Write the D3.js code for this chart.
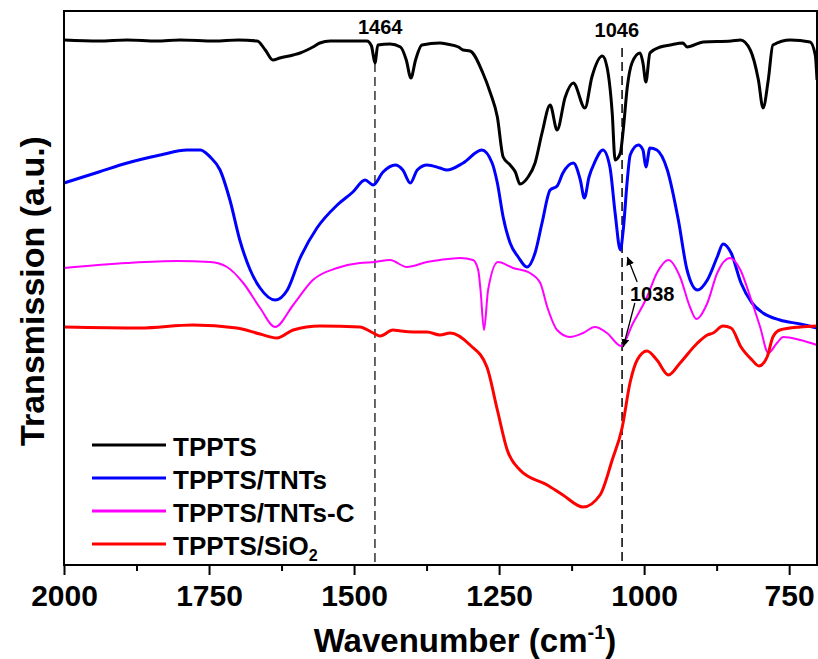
<!DOCTYPE html>
<html>
<head>
<meta charset="utf-8">
<script src="https://cdn.jsdelivr.net/npm/d3@7"></script>
<style>
  body { margin: 0; background: #fff; }
  svg { display: block; font-family: "Liberation Sans", Arial, sans-serif; font-weight: bold; }
</style>
</head>
<body>
<div id="chart"></div>
<script>
// FTIR spectra, [wavenumber (cm-1), transmission (a.u.)]
const tppts = [
  [2000, 525], [1940, 524], [1891, 525], [1840, 524], [1800, 525], [1740, 524], [1700, 525], [1667, 524],
  [1653, 515], [1640, 505], [1628, 507], [1605, 510], [1593, 512], [1581, 515], [1571, 518],
  [1559, 522], [1541, 524], [1500, 524],
  [1478, 524], [1470, 519], [1464, 502], [1459, 520], [1438, 521], [1420, 518], [1410, 505],
  [1402, 487], [1394, 505], [1383, 520], [1352, 522], [1340, 521], [1320, 518], [1312, 515],
  [1300, 514], [1278, 492], [1265, 472], [1253, 448], [1243, 408], [1231, 400], [1222, 393],
  [1214, 381], [1200, 388], [1188, 402], [1176, 432], [1162, 460], [1150, 435], [1136, 468],
  [1122, 482], [1102, 457], [1090, 488], [1072, 509], [1064, 498], [1055, 452], [1050, 405],
  [1041, 412], [1036, 435], [1029, 478], [1021, 502], [1007, 512], [1002, 502], [997, 483],
  [990, 512], [972, 518], [955, 520], [933, 522], [926, 518], [898, 523], [850, 524], [834, 525],
  [817, 515], [803, 485], [795, 457], [786, 485], [778, 520], [748, 525], [714, 523], [705, 510],
  [702, 485]
];
const tppts_tnts = [
  [2000, 382], [1940, 393], [1891, 402], [1834, 410], [1788, 415], [1765, 415], [1748, 408],
  [1731, 395], [1714, 365], [1697, 325], [1679, 295], [1662, 277], [1636, 265], [1615, 275],
  [1593, 307], [1564, 337], [1529, 360], [1502, 373], [1481, 385], [1467, 380], [1450, 393],
  [1429, 400], [1416, 395], [1403, 382], [1391, 395], [1374, 400], [1352, 397], [1340, 395],
  [1312, 402], [1280, 415], [1262, 402], [1253, 382], [1243, 348], [1231, 322], [1217, 308],
  [1202, 298], [1188, 312], [1176, 342], [1162, 375], [1150, 379], [1140, 392], [1122, 402],
  [1110, 385], [1103, 367], [1095, 388], [1085, 403], [1071, 415], [1059, 398], [1050, 352],
  [1041, 315], [1036, 335], [1029, 385], [1024, 410], [1010, 420], [1002, 415], [997, 398],
  [990, 417], [978, 415], [960, 395], [941, 345], [926, 295], [908, 275], [891, 285],
  [874, 308], [864, 321], [850, 312], [833, 282], [814, 262], [795, 252], [766, 245],
  [731, 241], [702, 237]
];
const tppts_tnts_c = [
  [2000, 297], [1891, 302], [1805, 304], [1748, 303], [1719, 298], [1691, 282], [1662, 257],
  [1636, 238], [1605, 260], [1571, 285], [1529, 297], [1490, 302], [1464, 303], [1438, 305],
  [1409, 298], [1374, 303], [1352, 305], [1317, 307], [1295, 305], [1286, 295], [1282, 275],
  [1276, 235], [1269, 275], [1252, 303], [1226, 297], [1197, 292], [1179, 282], [1167, 258],
  [1150, 235], [1128, 228], [1105, 232], [1085, 238], [1064, 232], [1040, 219], [1019, 242],
  [995, 268], [978, 292], [958, 305], [938, 288], [921, 258], [910, 246], [891, 262],
  [874, 292], [852, 307], [834, 295], [817, 268], [800, 238], [786, 212], [771, 222],
  [760, 228], [731, 225], [702, 220]
];
const tppts_sio2 = [
  [2000, 238], [1869, 237], [1778, 240], [1702, 237], [1662, 231], [1633, 227], [1605, 235],
  [1559, 239], [1490, 238], [1467, 232], [1455, 229], [1433, 235], [1420, 234], [1398, 233],
  [1374, 233], [1352, 230], [1334, 232], [1300, 220], [1271, 198], [1253, 155], [1236, 115],
  [1214, 95], [1167, 80], [1140, 70], [1105, 58], [1076, 70], [1055, 105], [1038, 137],
  [1024, 183], [1012, 205], [995, 214], [978, 205], [958, 190], [938, 202], [908, 222],
  [891, 230], [881, 232], [864, 239], [850, 237], [833, 218], [814, 205], [802, 199],
  [788, 208], [778, 228], [766, 235], [731, 238], [702, 239]
];

const seriesNames = ["TPPTS", "TPPTS/TNTs", "TPPTS/TNTs-C", "TPPTS/SiO2"];
const seriesColors = ["#000000", "#0000ff", "#ff00ff", "#ff0000"];
const seriesWidths = [3, 3, 2, 3];
const allSeries = [tppts, tppts_tnts, tppts_tnts_c, tppts_sio2];

const majorTicks = [2000, 1750, 1500, 1250, 1000, 750];
const minorTicks = [1875, 1625, 1375, 1125, 875];

const width = 818, height = 659;
const margin = {top: 11, right: 1, bottom: 94, left: 64};
const plotW = width - margin.left - margin.right;
const plotH = height - margin.top - margin.bottom;

const svg = d3.select('#chart').append('svg')
  .attr('width', width)
  .attr('height', height);

const x = d3.scaleLinear().domain([2000, 702]).range([0, plotW]);
const y = d3.scaleLinear().domain([0, 554]).range([plotH, 0]);

const g = svg.append('g').attr('transform', `translate(${margin.left},${margin.top})`);

// dashed marker lines
g.append('line')
  .attr('x1', x(1464)).attr('x2', x(1464))
  .attr('y1', y(502)).attr('y2', plotH)
  .attr('stroke', '#333').attr('stroke-width', 1.5).attr('stroke-dasharray', '9,5');
g.append('line')
  .attr('x1', x(1038)).attr('x2', x(1038))
  .attr('y1', y(517)).attr('y2', plotH)
  .attr('stroke', '#000').attr('stroke-width', 1.5).attr('stroke-dasharray', '9,5');

const line = d3.line()
  .x(d => x(d[0]))
  .y(d => y(d[1]))
  .curve(d3.curveMonotoneX);

allSeries.forEach((s, i) => {
  g.append('path')
    .datum(s)
    .attr('fill', 'none')
    .attr('stroke', seriesColors[i])
    .attr('stroke-width', seriesWidths[i])
    .attr('stroke-linejoin', 'round')
    .attr('d', line);
});

// frame
g.append('rect')
  .attr('width', plotW).attr('height', plotH)
  .attr('fill', 'none').attr('stroke', '#000').attr('stroke-width', 2);

// bottom axis
const xAxis = g.append('g')
  .attr('transform', `translate(0,${plotH})`)
  .call(d3.axisBottom(x).tickValues(majorTicks).tickSize(10).tickPadding(10).tickFormat(d3.format('d')));
xAxis.select('.domain').remove();
xAxis.selectAll('line').attr('stroke-width', 2);
xAxis.selectAll('text')
  .attr('font-size', 30)
  .attr('font-family', '"Liberation Sans", Arial, sans-serif')
  .attr('font-weight', 'bold')
  .attr('fill', '#000');

const xMinor = g.append('g')
  .attr('transform', `translate(0,${plotH})`)
  .call(d3.axisBottom(x).tickValues(minorTicks).tickSize(6).tickFormat(''));
xMinor.select('.domain').remove();
xMinor.selectAll('line').attr('stroke-width', 2);

// axis titles
const xTitle = svg.append('text')
  .attr('x', 465)
  .attr('y', 652)
  .attr('text-anchor', 'middle')
  .attr('font-size', 33);
xTitle.append('tspan').text('Wavenumber (cm');
xTitle.append('tspan').attr('font-size', 20).attr('dy', -13).text('-1');
xTitle.append('tspan').attr('dy', 13).text(')');

svg.append('text')
  .attr('transform', 'translate(44,291) rotate(-90)')
  .attr('text-anchor', 'middle')
  .attr('font-size', 34)
  .text('Transmission (a.u.)');

// annotations
g.append('text')
  .attr('x', x(1455)).attr('y', y(531))
  .attr('text-anchor', 'middle').attr('font-size', 20)
  .text('1464');
g.append('text')
  .attr('x', x(1047)).attr('y', y(528))
  .attr('text-anchor', 'middle').attr('font-size', 20)
  .text('1046');
g.append('text')
  .attr('x', x(986)).attr('y', y(264))
  .attr('text-anchor', 'middle').attr('font-size', 20)
  .text('1038');

svg.append('defs').append('marker')
  .attr('id', 'arrow')
  .attr('viewBox', '0 0 10 10')
  .attr('refX', 10).attr('refY', 5)
  .attr('markerWidth', 8).attr('markerHeight', 8)
  .attr('markerUnits', 'userSpaceOnUse')
  .attr('orient', 'auto')
  .append('path').attr('d', 'M0,0 L10,5 L0,10 Z').attr('fill', '#000');

const arrows = [
  {from: [1012, 283], to: [1029, 308]},
  {from: [1016, 262], to: [1036, 218]}
];
arrows.forEach(a => {
  g.append('line')
    .attr('x1', x(a.from[0])).attr('y1', y(a.from[1]))
    .attr('x2', x(a.to[0])).attr('y2', y(a.to[1]))
    .attr('stroke', '#000').attr('stroke-width', 1.3)
    .attr('marker-end', 'url(#arrow)');
});

// legend
const legend = svg.append('g').attr('transform', 'translate(92,445)');
seriesNames.forEach((name, i) => {
  const row = legend.append('g').attr('transform', `translate(0,${i * 33})`);
  row.append('line')
    .attr('x1', 0).attr('x2', 74)
    .attr('stroke', seriesColors[i]).attr('stroke-width', 3);
  const t = row.append('text').attr('x', 81).attr('y', 11).attr('font-size', 26);
  if (name === 'TPPTS/SiO2') {
    t.append('tspan').text('TPPTS/SiO');
    t.append('tspan').attr('font-size', 16).attr('dy', 6).text('2');
  } else {
    t.text(name);
  }
});
</script>
</body>
</html>
